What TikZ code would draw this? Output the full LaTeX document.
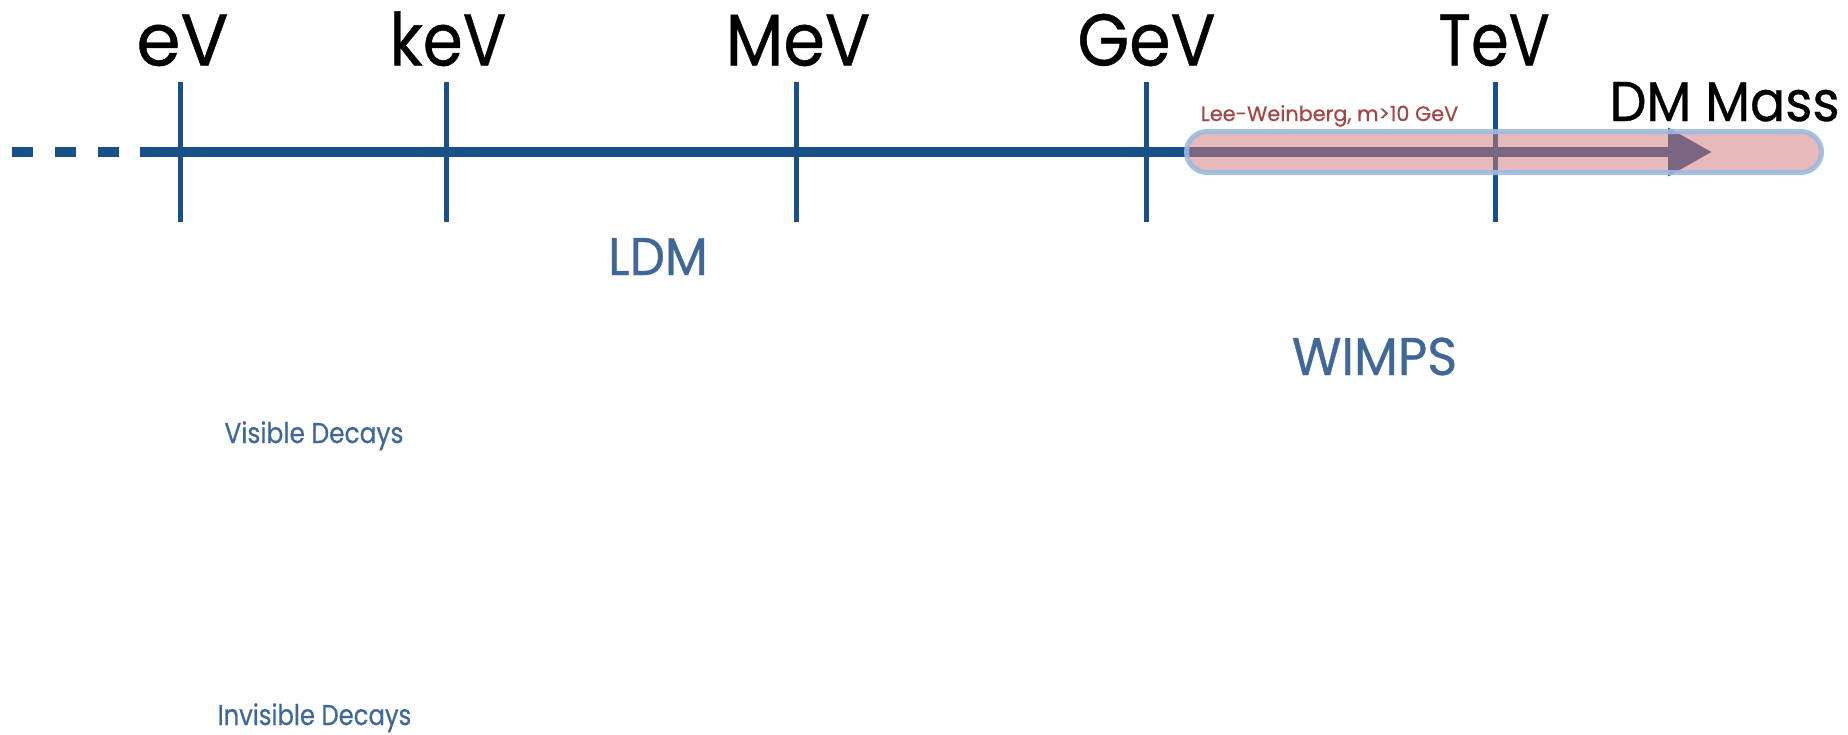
\documentclass[tikz,border=0pt]{standalone}
\usepackage{fontspec}
\setmainfont{Poppins}[FakeBold=0.6]
\usetikzlibrary{arrows.meta}
\definecolor{axisblue}{HTML}{1A5088}
\definecolor{txtblue}{HTML}{3F6898}
\definecolor{lwred}{HTML}{A34646}
\definecolor{pillfill}{RGB}{208,122,124}
\definecolor{pillborder}{HTML}{9CBAE0}
\newcommand{\sx}[2]{\scalebox{#1}[1]{#2}}
\begin{document}
\begin{tikzpicture}[x=0.5pt,y=-0.5pt,
  tickline/.style={axisblue,line width=2.5pt},
  unitlabel/.style={font=\fontsize{36.6}{40}\selectfont,text=black,inner sep=0,anchor=base},
  rangelabel/.style={font=\fontsize{26.5}{30}\selectfont,text=txtblue,inner sep=0,anchor=base},
  decaylabel/.style={font=\fontsize{14.3}{17}\selectfont,text=txtblue,inner sep=0,anchor=base},
  pillbox/.style={rounded corners=10.25pt,minimum width=317.5pt,minimum height=20.5pt,inner sep=0,
    fill=pillfill,fill opacity=0.53,draw=pillborder,draw opacity=0.9,line width=2.5pt}]
\useasboundingbox (0,0) rectangle (1848,734);
% axis
\coordinate (dashL) at (12,152);
\coordinate (dashR) at (119,152);
\coordinate (axS) at (140,152);
\coordinate (axE) at (1712,152);
\draw[axisblue,line width=5pt,dash pattern=on 10.5pt off 11pt] (dashL) -- (dashR);
\draw[axisblue,line width=5pt,-{Triangle[length=22pt,width=23pt]}] (axS) -- (axE);
% ticks
\foreach \n/\x in {ev/180,kev/446,mev/796,gev/1146,tev/1495}{
  \coordinate (\n T) at (\x,82);
  \coordinate (\n B) at (\x,222);
  \draw[tickline] (\n T) -- (\n B);
}
% unit labels
\node[unitlabel] (lev) at (182.5,65.5) {\sx{0.97}{eV}};
\node[unitlabel] (lkev) at (448,65.5) {\sx{0.88}{keV}};
\node[unitlabel] (lmev) at (798,65.5) {\sx{0.915}{MeV}};
\node[unitlabel] (lgev) at (1146.5,65.5) {\sx{0.91}{GeV}};
\node[unitlabel] (ltev) at (1494,65.5) {\sx{0.83}{TeV}};
\node[font=\fontsize{28}{32}\selectfont,inner sep=0,anchor=base east] (dm) at (1840,121) {\sx{0.93}{DM Mass}};
% WIMP band
\node[pillbox] (pill) at (1504,152) {};
\node[font=\fontsize{10.4}{12}\selectfont,text=lwred,inner sep=0,anchor=base] (lw) at (1329.5,121) {Lee-Weinberg, m>10 GeV};
% ranges
\node[rangelabel] (ldm) at (658,275) {\sx{0.94}{LDM}};
\node[rangelabel] (wimps) at (1374.5,375) {\sx{0.96}{WIMPS}};
\node[decaylabel] (vis) at (314,443) {\sx{0.87}{Visible Decays}};
\node[decaylabel] (invis) at (314.5,725) {\sx{0.85}{Invisible Decays}};
\end{tikzpicture}
\end{document}
